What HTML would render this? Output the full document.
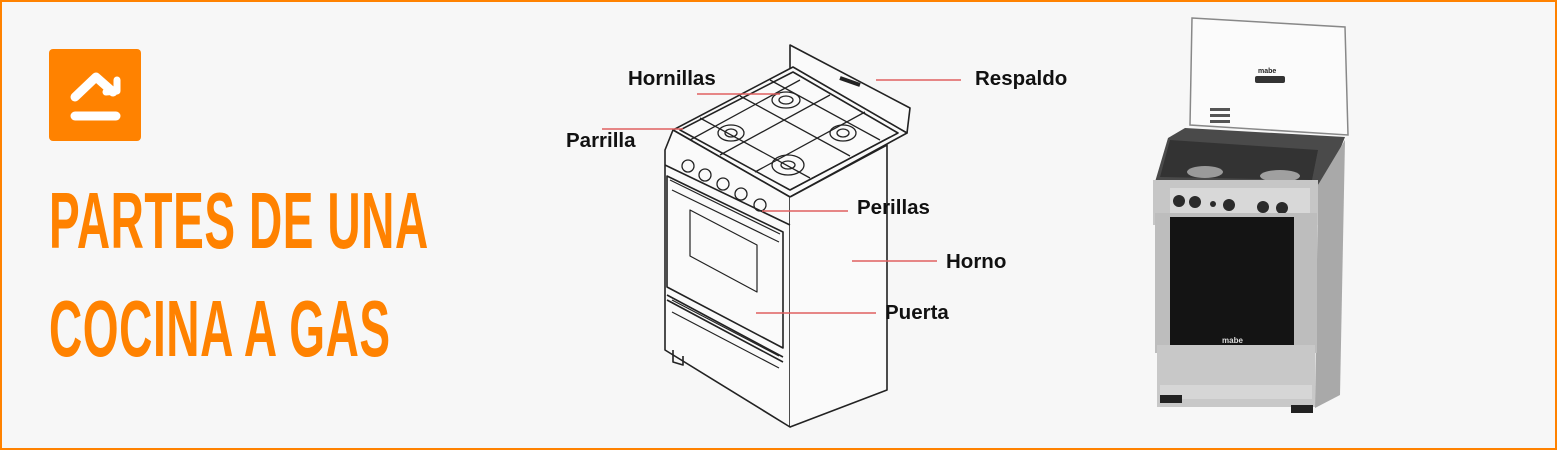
<!DOCTYPE html>
<html><head><meta charset="utf-8"><style>
html,body{margin:0;padding:0}
body{width:1557px;height:450px;overflow:hidden;background:#f7f7f7;position:relative;font-family:"Liberation Sans",sans-serif}
.frame{position:absolute;left:0;top:0;width:1553px;height:446px;border:2px solid #ff8200}
.title{position:absolute;left:49px;color:#ff8200;font-weight:bold;font-size:80px;line-height:80px;transform-origin:0 0;transform:scaleX(0.575);white-space:nowrap;letter-spacing:1px}
.lbl{position:absolute;font-weight:bold;font-size:20.5px;color:#111}
</style></head><body>
<div class="frame"></div>
<svg style="position:absolute;left:0;top:0" width="1557" height="450">
 <rect x="49" y="49" width="92" height="92" rx="4" fill="#ff8200"/>
 <path d="M75 97 L96 77 L113 92" stroke="#fff" stroke-width="9" fill="none" stroke-linecap="round" stroke-linejoin="round"/>
 <path d="M106 92 L117 91 L117 80" stroke="#fff" stroke-width="7" fill="none" stroke-linecap="round" stroke-linejoin="round"/>
 <line x1="75" y1="116" x2="116" y2="116" stroke="#fff" stroke-width="9" stroke-linecap="round"/>

 <g fill="none" stroke="#222" stroke-width="1.6" stroke-linejoin="round">
  <path d="M790 45 L910 108 L907 133 L790 70 Z" fill="#fafafa"/>
  <path d="M673 130 L793 67 L907 133 L790 197 Z" fill="#fafafa"/>
  <path d="M680 130 L793 72 L898 133 L790 190 Z"/>
  <path d="M673 130 L665 150 L665 350 L790 427 L790 197 Z" fill="#fafafa"/>
  <path d="M790 197 L887 145 L887 390 L790 427" fill="#fafafa"/>
  <path d="M665 165 L790 225"/>
  <path d="M667 176 L783 232 L783 348 L667 287 Z"/>
  <path d="M690 210 L757 245 L757 292 L690 256 Z" stroke-width="1.2"/>
  <path d="M667 295 L783 357 M667 300 L783 362"/>
  <path d="M670 180 L780 234 M672 190 L779 242" stroke-width="1.2"/>
  <path d="M672 300 L779 356 M672 312 L779 368" stroke-width="1.2"/>
  <path d="M673 350 L673 362 L683 365 L683 356"/>
  <g stroke-width="1.3">
   <circle cx="688" cy="166" r="6"/><circle cx="705" cy="175" r="6"/><circle cx="723" cy="184" r="6"/><circle cx="741" cy="194" r="6"/><circle cx="760" cy="205" r="6"/>
   <ellipse cx="786" cy="100" rx="14" ry="8"/><ellipse cx="786" cy="100" rx="7" ry="4"/>
   <ellipse cx="731" cy="133" rx="13" ry="8"/><ellipse cx="731" cy="133" rx="6" ry="4"/>
   <ellipse cx="843" cy="133" rx="13" ry="8"/><ellipse cx="843" cy="133" rx="6" ry="4"/>
   <ellipse cx="788" cy="165" rx="16" ry="10"/><ellipse cx="788" cy="165" rx="7" ry="4"/>
   <path d="M700 118 L810 178 M740 96 L850 156 M770 80 L880 140 M690 140 L800 80 M720 155 L830 95 M755 172 L865 112 M790 190 L890 137"/>
  </g>
  <path d="M840 78 L860 85" stroke-width="4"/>
 </g>
 <g stroke="#e06060" stroke-width="1.6">
  <line x1="697" y1="94" x2="780" y2="94"/>
  <line x1="876" y1="80" x2="961" y2="80"/>
  <line x1="602" y1="129" x2="683" y2="129"/>
  <line x1="762" y1="211" x2="848" y2="211"/>
  <line x1="852" y1="261" x2="937" y2="261"/>
  <line x1="756" y1="313" x2="876" y2="313"/>
 </g>

 <path d="M1192 18 L1345 27 L1348 135 L1190 125 Z" fill="#fbfbfb" stroke="#888" stroke-width="1.5"/>
 <rect x="1255" y="76" width="30" height="7" rx="2" fill="#333"/>
 <text x="1258" y="73" font-size="7" font-weight="bold" fill="#222">mabe</text>
 <rect x="1210" y="108" width="20" height="3" fill="#555"/><rect x="1210" y="114" width="20" height="3" fill="#555"/><rect x="1210" y="120" width="20" height="3" fill="#555"/>
 <path d="M1168 138 L1185 128 L1345 137 L1335 162 L1318 185 L1155 182 Z" fill="#4a4a4a"/>
 <path d="M1170 140 L1318 150 L1312 180 L1160 177 Z" fill="#333"/>
 <ellipse cx="1205" cy="172" rx="18" ry="6" fill="#9a9a9a"/><ellipse cx="1280" cy="176" rx="20" ry="6" fill="#a0a0a0"/>
 <path d="M1318 185 L1345 140 L1340 395 L1315 408 Z" fill="#a9a9a9"/>
 <rect x="1153" y="180" width="165" height="45" fill="#c6c6c6"/>
 <rect x="1170" y="188" width="140" height="28" fill="#d8d8d8"/>
 <g fill="#2a2a2a"><circle cx="1179" cy="201" r="6"/><circle cx="1195" cy="202" r="6"/><circle cx="1213" cy="204" r="3"/><circle cx="1229" cy="205" r="6"/><circle cx="1263" cy="207" r="6"/><circle cx="1282" cy="208" r="6"/></g>
 <rect x="1155" y="213" width="162" height="140" fill="#bdbdbd"/>
 <rect x="1170" y="217" width="124" height="138" fill="#141414"/>
 <text x="1222" y="343" font-size="8" font-weight="bold" fill="#ddd">mabe</text>
 <rect x="1157" y="345" width="158" height="62" fill="#c8c8c8"/>
 <rect x="1160" y="385" width="152" height="14" fill="#d6d6d6"/>
 <rect x="1160" y="395" width="22" height="8" fill="#222"/><rect x="1291" y="405" width="22" height="8" fill="#222"/>
</svg>
<div class="title" style="top:181px">PARTES DE UNA</div>
<div class="title" style="top:289px">COCINA A GAS</div>
<div class="lbl" style="left:628px;top:67px">Hornillas</div>
<div class="lbl" style="left:975px;top:67px">Respaldo</div>
<div class="lbl" style="left:566px;top:129px">Parrilla</div>
<div class="lbl" style="left:857px;top:196px">Perillas</div>
<div class="lbl" style="left:946px;top:250px">Horno</div>
<div class="lbl" style="left:885px;top:301px">Puerta</div>
</body></html>
